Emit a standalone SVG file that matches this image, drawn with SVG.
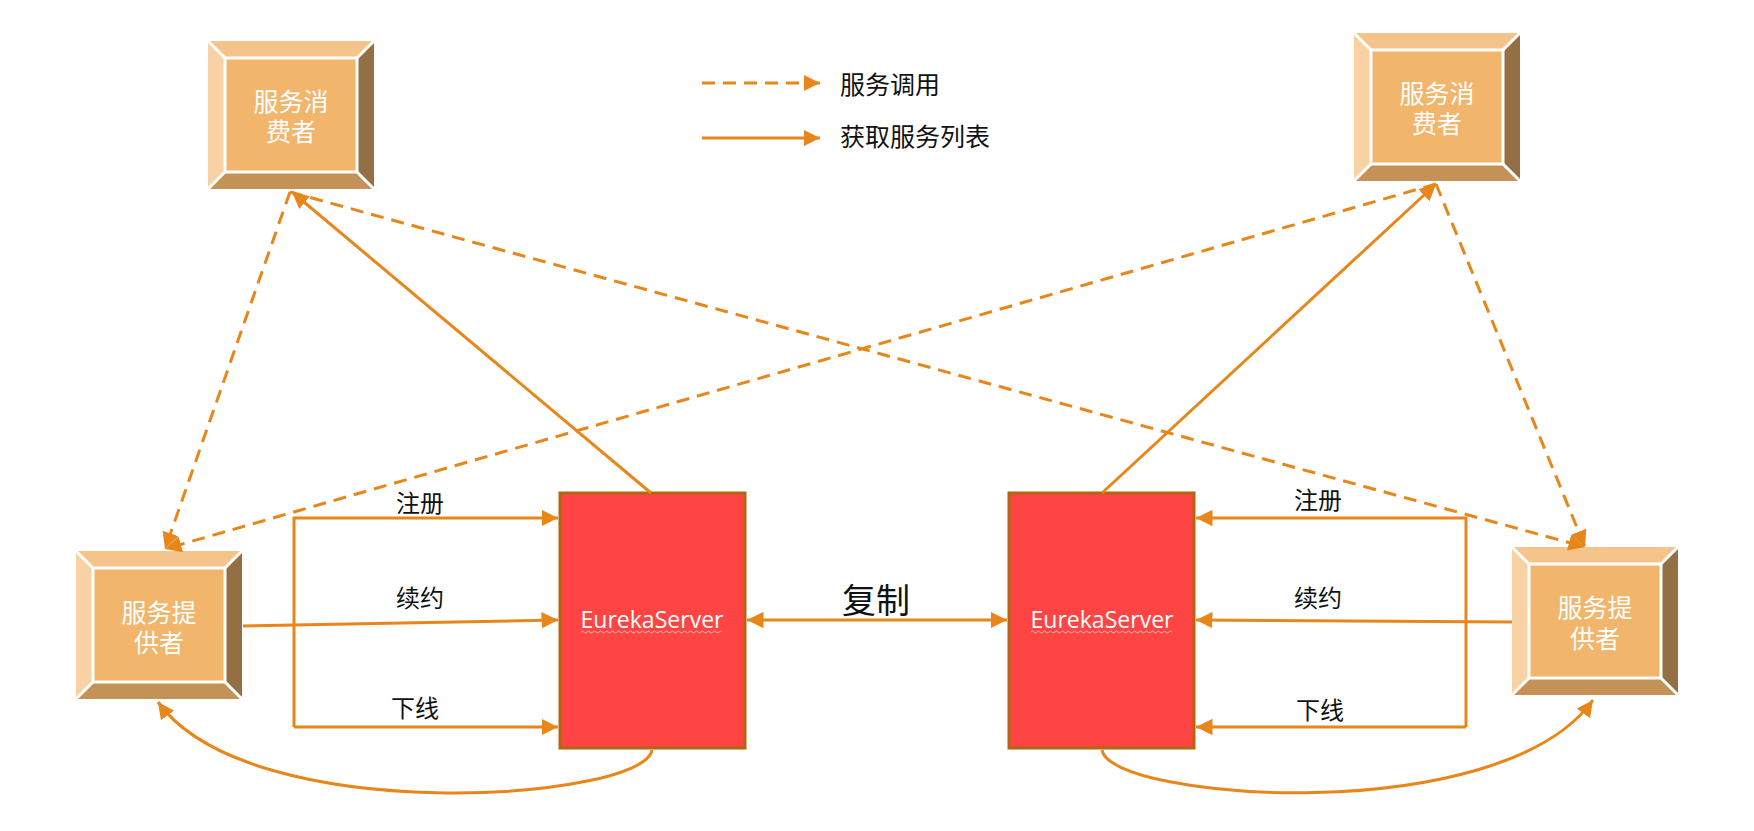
<svg xmlns="http://www.w3.org/2000/svg" xmlns:xlink="http://www.w3.org/1999/xlink" width="1754" height="831" viewBox="0 0 1754 831">
<style>
.ln{fill:none;stroke:#e8861a;stroke-width:3}
.dash{stroke-dasharray:13 8}
.boxt{font-family:"Noto Sans CJK SC","Noto Sans",sans-serif;font-size:25px;fill:#ffffff;text-anchor:middle}
.lab{font-family:"Noto Sans CJK SC","Noto Sans",sans-serif;font-size:24px;fill:#111111;text-anchor:middle}
.srv{fill:#ff4444;stroke:#b3650f;stroke-width:3}
.srvt{font-family:"Open Sans","Noto Sans",sans-serif;font-size:24px;fill:#ffffff;text-anchor:middle}
</style>
<defs>
<marker id="arr" viewBox="0 0 10 10" refX="10" refY="5" markerWidth="5.5" markerHeight="5.5" orient="auto-start-reverse">
<path d="M0,0 L10,5 L0,10 z" fill="#e8861a"/>
</marker>
<g id="bevel">
<polygon points="0,0 166,0 149,17 17,17" fill="#f5c48b"/>
<polygon points="0,0 17,17 17,131 0,148" fill="#f8d2a4"/>
<polygon points="166,0 166,148 149,131 149,17" fill="#946f44"/>
<polygon points="0,148 17,131 149,131 166,148" fill="#c49257"/>
<rect x="17" y="17" width="132" height="114" fill="#f2b56c" stroke="#ffffff" stroke-width="3"/>
<path d="M0,0 L17,17 M166,0 L149,17 M0,148 L17,131 M166,148 L149,131" stroke="#ffffff" stroke-width="3"/>
</g>
</defs>
<rect width="1754" height="831" fill="#ffffff"/>

<g id="consumer-left">
<use xlink:href="#bevel" x="208" y="41"/>
<text class="boxt"><tspan x="291" y="111">服务消</tspan><tspan x="291" y="141">费者</tspan></text>
</g>
<g id="consumer-right">
<use xlink:href="#bevel" x="1354" y="33"/>
<text class="boxt"><tspan x="1437" y="103">服务消</tspan><tspan x="1437" y="133">费者</tspan></text>
</g>
<g id="provider-left">
<use xlink:href="#bevel" x="76" y="551"/>
<text class="boxt"><tspan x="159" y="622">服务提</tspan><tspan x="159" y="652">供者</tspan></text>
</g>
<g id="provider-right">
<use xlink:href="#bevel" x="1512" y="547"/>
<text class="boxt"><tspan x="1595" y="617">服务提</tspan><tspan x="1595" y="648">供者</tspan></text>
</g>

<g id="server-left">
<rect class="srv" x="560" y="493" width="185" height="255"/>
<text class="srvt" x="652" y="628" textLength="143" lengthAdjust="spacingAndGlyphs">EurekaServer</text>
<path d="M581,632 q1.5,-2 3,0 t3,0 t3,0 t3,0 t3,0 t3,0 t3,0 t3,0 t3,0 t3,0 t3,0 t3,0 t3,0 t3,0 t3,0 t3,0 t3,0 t3,0 t3,0 t3,0 t3,0 t3,0 t3,0 t3,0 t3,0 t3,0 t3,0 t3,0 t3,0 t3,0 t3,0 t3,0 t3,0 t3,0 t3,0 t3,0 t3,0 t3,0 t3,0 t3,0 t3,0 t3,0 t3,0 t3,0 t3,0 t3,0 t3,0" fill="none" stroke="#ffb3b3" stroke-width="1"/>
</g>
<g id="server-right">
<rect class="srv" x="1009" y="493" width="185" height="255"/>
<text class="srvt" x="1102" y="628" textLength="143" lengthAdjust="spacingAndGlyphs">EurekaServer</text>
<path d="M1031,632 q1.5,-2 3,0 t3,0 t3,0 t3,0 t3,0 t3,0 t3,0 t3,0 t3,0 t3,0 t3,0 t3,0 t3,0 t3,0 t3,0 t3,0 t3,0 t3,0 t3,0 t3,0 t3,0 t3,0 t3,0 t3,0 t3,0 t3,0 t3,0 t3,0 t3,0 t3,0 t3,0 t3,0 t3,0 t3,0 t3,0 t3,0 t3,0 t3,0 t3,0 t3,0 t3,0 t3,0 t3,0 t3,0 t3,0 t3,0 t3,0" fill="none" stroke="#ffb3b3" stroke-width="1"/>
</g>

<g id="legend">
<line class="ln dash" x1="702" y1="83" x2="820" y2="83" marker-end="url(#arr)"/>
<text class="lab" x="840" y="94" style="text-anchor:start;font-size:25px">服务调用</text>
<line class="ln" x1="702" y1="138" x2="820" y2="138" marker-end="url(#arr)"/>
<text class="lab" x="840" y="146" style="text-anchor:start;font-size:25px">获取服务列表</text>
</g>

<g id="connectors">
<line class="ln dash" x1="290" y1="192" x2="165" y2="549" marker-end="url(#arr)"/>
<line class="ln dash" x1="290" y1="192" x2="1585" y2="547" marker-end="url(#arr)"/>
<line class="ln dash" x1="1436" y1="184" x2="1585" y2="547" marker-end="url(#arr)"/>
<line class="ln dash" x1="1436" y1="184" x2="165" y2="549" marker-end="url(#arr)"/>
<line class="ln" x1="651" y1="493" x2="292" y2="192" marker-end="url(#arr)"/>
<line class="ln" x1="1102" y1="493" x2="1436" y2="184" marker-end="url(#arr)"/>
<polyline class="ln" points="294,727 294,518 558,518" marker-end="url(#arr)"/>
<line class="ln" x1="243" y1="626" x2="558" y2="620" marker-end="url(#arr)"/>
<line class="ln" x1="294" y1="727" x2="558" y2="727" marker-end="url(#arr)"/>
<polyline class="ln" points="1466,727 1466,518 1196,518" marker-end="url(#arr)"/>
<line class="ln" x1="1512" y1="622" x2="1196" y2="620" marker-end="url(#arr)"/>
<line class="ln" x1="1466" y1="727" x2="1196" y2="727" marker-end="url(#arr)"/>
<line class="ln" x1="747" y1="620" x2="1007" y2="620" marker-start="url(#arr)" marker-end="url(#arr)"/>
<path class="ln" d="M652,750 C645,800 250,830 158,702" marker-end="url(#arr)"/>
<path class="ln" d="M1102,750 C1109,800 1500,830 1593,700" marker-end="url(#arr)"/>
<text class="lab" x="420" y="512">注册</text>
<text class="lab" x="420" y="607">续约</text>
<text class="lab" x="415" y="717">下线</text>
<text class="lab" x="1318" y="509">注册</text>
<text class="lab" x="1318" y="607">续约</text>
<text class="lab" x="1320" y="719">下线</text>
<text class="lab" x="876" y="613" style="font-size:34px">复制</text>
</g>
</svg>
